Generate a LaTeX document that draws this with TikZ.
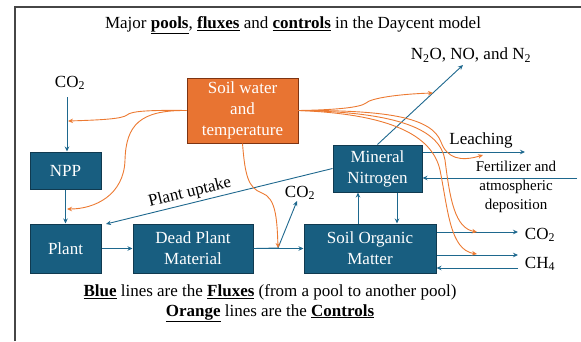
\documentclass[tikz,border=0pt]{standalone}
\usepackage{fontspec}
\setmainfont{Liberation Serif}
\usetikzlibrary{arrows.meta}
\definecolor{boxblue}{RGB}{24,94,128}
\definecolor{boxedge}{RGB}{16,58,80}
\definecolor{fluxblue}{RGB}{30,104,142}
\definecolor{ctrlorange}{RGB}{236,122,50}
\definecolor{swtfill}{RGB}{232,116,50}
\definecolor{swtedge}{RGB}{125,52,18}
\definecolor{framegray}{RGB}{70,70,70}
\begin{document}
\begin{tikzpicture}[x=1pt,y=-1pt,
  pool/.style={draw=boxedge, line width=1pt, fill=boxblue, text=white, align=center,
    inner sep=0pt, font=\fontsize{17}{21}\selectfont},
  ctrlbox/.style={draw=swtedge, line width=1pt, fill=swtfill, text=white, align=center,
    inner sep=0pt, font=\fontsize{17}{21}\selectfont},
  lbl/.style={font=\fontsize{17}{21}\selectfont, inner sep=0pt, align=center},
  smalllbl/.style={font=\fontsize{15}{19}\selectfont, inner sep=0pt, align=center},
  flux/.style={draw=fluxblue, line width=0.9pt, -{Stealth[length=5pt,width=4.5pt]}},
  ctrl/.style={draw=ctrlorange, line width=0.9pt, -{Stealth[length=5pt,width=4.5pt]}},
]
\useasboundingbox (0,0) rectangle (581,341);
\draw[framegray, line width=1.3pt] (15,341) -- (15,7) -- (581,7);

% title
\node[lbl] (title) at (293,25) {Major \underline{\textbf{pools}}, \underline{\textbf{fluxes}} and \underline{\textbf{controls}} in the Daycent model};

% boxes
\node[ctrlbox, minimum width=111pt, minimum height=65pt] (swt) at (242.5,110.5) {Soil water\\and\\temperature};
\node[pool, minimum width=71pt, minimum height=37pt] (npp) at (65.5,170.5) {NPP};
\node[pool, minimum width=71pt, minimum height=49pt] (plant) at (65.5,248.5) {Plant};
\node[pool, minimum width=120pt, minimum height=49pt] (dead) at (193,248.5) {Dead Plant\\Material};
\node[pool, minimum width=132pt, minimum height=49pt] (som) at (370,248.5) {Soil Organic\\Matter};
\node[pool, minimum width=89pt, minimum height=47pt] (minN) at (377.5,168.5) {Mineral\\Nitrogen};

% labels
\node[lbl] (co2a) at (70,83) {CO\textsubscript{2}};
\node[lbl] (co2b) at (300,193) {CO\textsubscript{2}};
\node[lbl] (n2o) at (471,55) {N\textsubscript{2}O, NO, and N\textsubscript{2}};
\node[lbl] (leach) at (481,140) {Leaching};
\node[smalllbl] (fert) at (516,187) {Fertilizer and\\atmospheric\\deposition};
\node[lbl] (co2c) at (540,235) {CO\textsubscript{2}};
\node[lbl] (ch4) at (540,264) {CH\textsubscript{4}};
\node[lbl, rotate=13.7] (uptake) at (190,193) {Plant uptake};

\node[lbl] (leg1) at (270,292) {\underline{\textbf{Blue}} lines are the \underline{\textbf{Fluxes}} (from a pool to another pool)};
\node[lbl] (leg2) at (270,313) {\underline{\textbf{Orange}} lines are the \underline{\textbf{Controls}}};

% coordinates
\coordinate (co2astart) at (67,97);
\coordinate (j) at (278,248);
\coordinate (co2bend) at (297,201);
\coordinate (n2oend) at (463,65);
\coordinate (leachend) at (525,152);
\coordinate (fertsrc) at (577,178);
\coordinate (co2cend) at (518,232);
\coordinate (ch4end) at (518,255);
\coordinate (ch4src) at (518,268);
\coordinate (uptakeend) at (106,224);

% fluxes
\draw[flux] (co2astart) -- (co2astart |- npp.north);
\draw[flux] (npp) -- (plant);
\draw[flux] (plant) -- (dead);
\draw[flux] (dead.east) -- (som.west);
\draw[flux, -] (dead.east) -- (j);
\draw[flux] (j) -- (co2bend);
\draw[flux] (minN.west) -- (uptakeend);
\draw[flux] (minN.north) -- (n2oend);
\draw[flux] (minN.east |- leachend) -- (leachend);
\draw[flux] (fertsrc) -- (minN.east |- fertsrc);
\draw[flux] (som.north -| 358,0) -- (minN.south -| 358,0);
\draw[flux] (minN.south -| 397,0) -- (som.north -| 397,0);
\draw[flux] (som.east |- co2cend) -- (co2cend);
\draw[flux] (som.east |- ch4end) -- (ch4end);
\draw[flux] (ch4src) -- (som.east |- ch4src);

% controls
\draw[ctrl] (swt.west) .. controls (150,110) and (131,111) .. (127,115)
  .. controls (122,119) and (100,120) .. (68,121);
\draw[ctrl] (swt.west) .. controls (140,110) and (126,125) .. (125,160)
  .. controls (124,195) and (95,209) .. (67,209);
\draw[ctrl] (swt.south) .. controls (245,175) and (248,188) .. (262,193)
  .. controls (275,198) and (277,215) .. (j);
\draw[ctrl] (swt.east) .. controls (330,110) and (360,108) .. (366,103)
  .. controls (371,98) and (400,94) .. (433,93);
\draw[ctrl] (swt.east) .. controls (390,110) and (432,118) .. (441,142)
  .. controls (447,158) and (460,162) .. (483,155);
\draw[ctrl] (swt.east) .. controls (400,112) and (440,130) .. (445,160)
  .. controls (450,200) and (455,228) .. (477,232);
\draw[ctrl] (swt.east) .. controls (390,114) and (432,135) .. (440,170)
  .. controls (448,210) and (450,250) .. (477,254);
\end{tikzpicture}
\end{document}
